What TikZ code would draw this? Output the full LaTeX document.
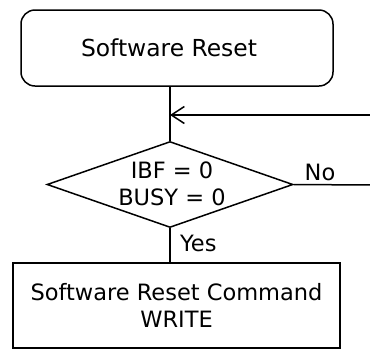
\documentclass[tikz,border=0pt]{standalone}
\usepackage{fontspec}
\setmainfont{DejaVu Sans}
\usetikzlibrary{shapes.geometric,arrows.meta}
\tikzset{
  every node/.style={font=\fontsize{22.5}{27}\selectfont, inner sep=0pt},
  flow/.style={line width=1.5pt},
  startbox/.style={draw, flow, rounded corners=14pt, minimum width=312pt, minimum height=76pt},
  cmdbox/.style={draw, flow, minimum width=327pt, minimum height=85pt, align=center},
  decision/.style={draw, flow, diamond, minimum width=246pt, minimum height=86pt},
  conn/.style={flow},
  barb/.style={flow, -{Straight Barb[length=13pt,width=17pt,line width=1.5pt]}}
}
\begin{document}
\begin{tikzpicture}[x=1pt,y=-1pt]
\useasboundingbox (0,0) rectangle (370,349);
\node[startbox] (start) at (177,48) {};
\node[font=\fontsize{23.4}{27}\selectfont] (title) at (169,48) {Software Reset};
\node[decision] (dec) at (170,184.5) {};
\node[align=center] (cond) at (172,183.5) {IBF = 0\\BUSY = 0};
\node[cmdbox] (cmd) at (176.5,305.5) {Software Reset Command\\WRITE};
\coordinate (join) at (170,115);
\coordinate (loopin) at (371,115);
\coordinate (noend) at (371,185);
\draw[conn] (dec.north |- start.south) -- (dec.north);
\draw[barb] (loopin) -- (join);
\draw[conn] (dec.east) -- (noend);
\draw[conn] (dec.south) -- (dec.south |- cmd.north);
\node (no) at (320,172) {No};
\node[anchor=west] (yes) at (180,243) {Yes};
\end{tikzpicture}
\end{document}
